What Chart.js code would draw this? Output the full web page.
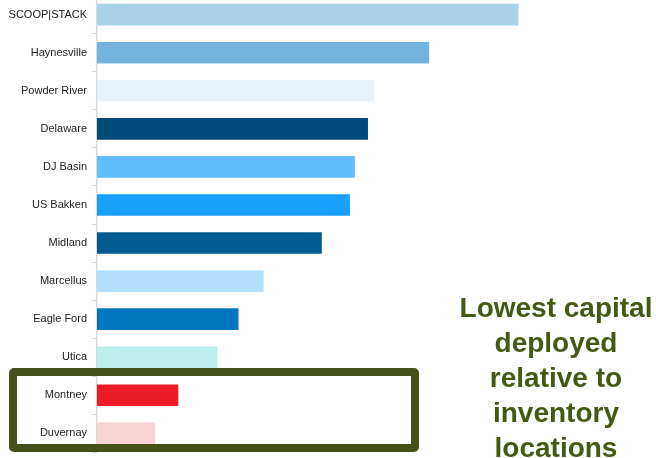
<!DOCTYPE html>
<html>
<head>
<meta charset="utf-8">
<script src="https://cdn.jsdelivr.net/npm/chart.js@4/dist/chart.umd.min.js"></script>
<style>
  html, body { margin: 0; padding: 0; background: #fff; overflow: hidden; }
  body { width: 656px; height: 458px; position: relative; font-family: "Liberation Sans", Arial, sans-serif; }
  /* the category axis pads ~11px above and below for its labels, so shift the canvas to line the bands up */
  #wrap { position: absolute; left: 0; top: -16px; width: 656px; height: 480px; }
  #callout {
    position: absolute; left: 9px; top: 368px; width: 410px; height: 84px;
    box-sizing: border-box; border: 8px solid #44521a; border-radius: 5px;
  }
  #note {
    position: absolute; left: 455px; width: 202px; top: 290px;
    text-align: center; font-weight: bold; font-size: 28px; line-height: 35px;
    color: #435a14;
  }
</style>
</head>
<body>
<div id="wrap"><canvas id="basins"></canvas></div>
<div id="callout"></div>
<div id="note">Lowest capital deployed relative to inventory locations</div>

<script>
const basins = [
  "SCOOP|STACK", "Haynesville", "Powder River", "Delaware", "DJ Basin", "US Bakken",
  "Midland", "Marcellus", "Eagle Ford", "Utica", "Montney", "Duvernay"
];
const capitalPerLocation = [421, 332, 277, 271, 258, 253, 225, 167, 142, 121, 82, 59];
const barColors = [
  "#a9d1ea", "#74b3dd", "#e6f1f9", "#004a7c", "#62bdfc", "#17a0fc",
  "#005b92", "#b2e0fe", "#0077c0", "#bdefed", "#ed1c27", "#f9d3d6"
];
const valueMax = 557;

const ctx = document.getElementById("basins").getContext("2d");
new Chart(ctx, {
  type: "bar",
  data: {
    labels: basins,
    datasets: [{
      data: capitalPerLocation,
      backgroundColor: barColors,
      borderColor: "rgba(255,255,255,0.3)",
      borderWidth: 1,
      barPercentage: 0.62,
      categoryPercentage: 1
    }]
  },
  options: {
    indexAxis: "y",
    responsive: true,
    maintainAspectRatio: false,
    animation: false,
    layout: { padding: 0 },
    plugins: {
      legend: { display: false },
      tooltip: { enabled: false }
    },
    scales: {
      x: {
        display: false,
        min: 0,
        max: valueMax
      },
      y: {
        afterFit: (scale) => { scale.width = 97; },
        grid: {
          display: true,
          drawOnChartArea: false,
          drawTicks: true,
          tickLength: 5,
          color: "#d4d4d4",
          offset: true
        },
        border: { display: true, color: "#d9d9d9", width: 1.5 },
        ticks: {
          padding: 5,
          color: "#222",
          font: { family: "'Liberation Sans', Arial, sans-serif", size: 11 }
        }
      }
    }
  }
});
</script>
</body>
</html>
